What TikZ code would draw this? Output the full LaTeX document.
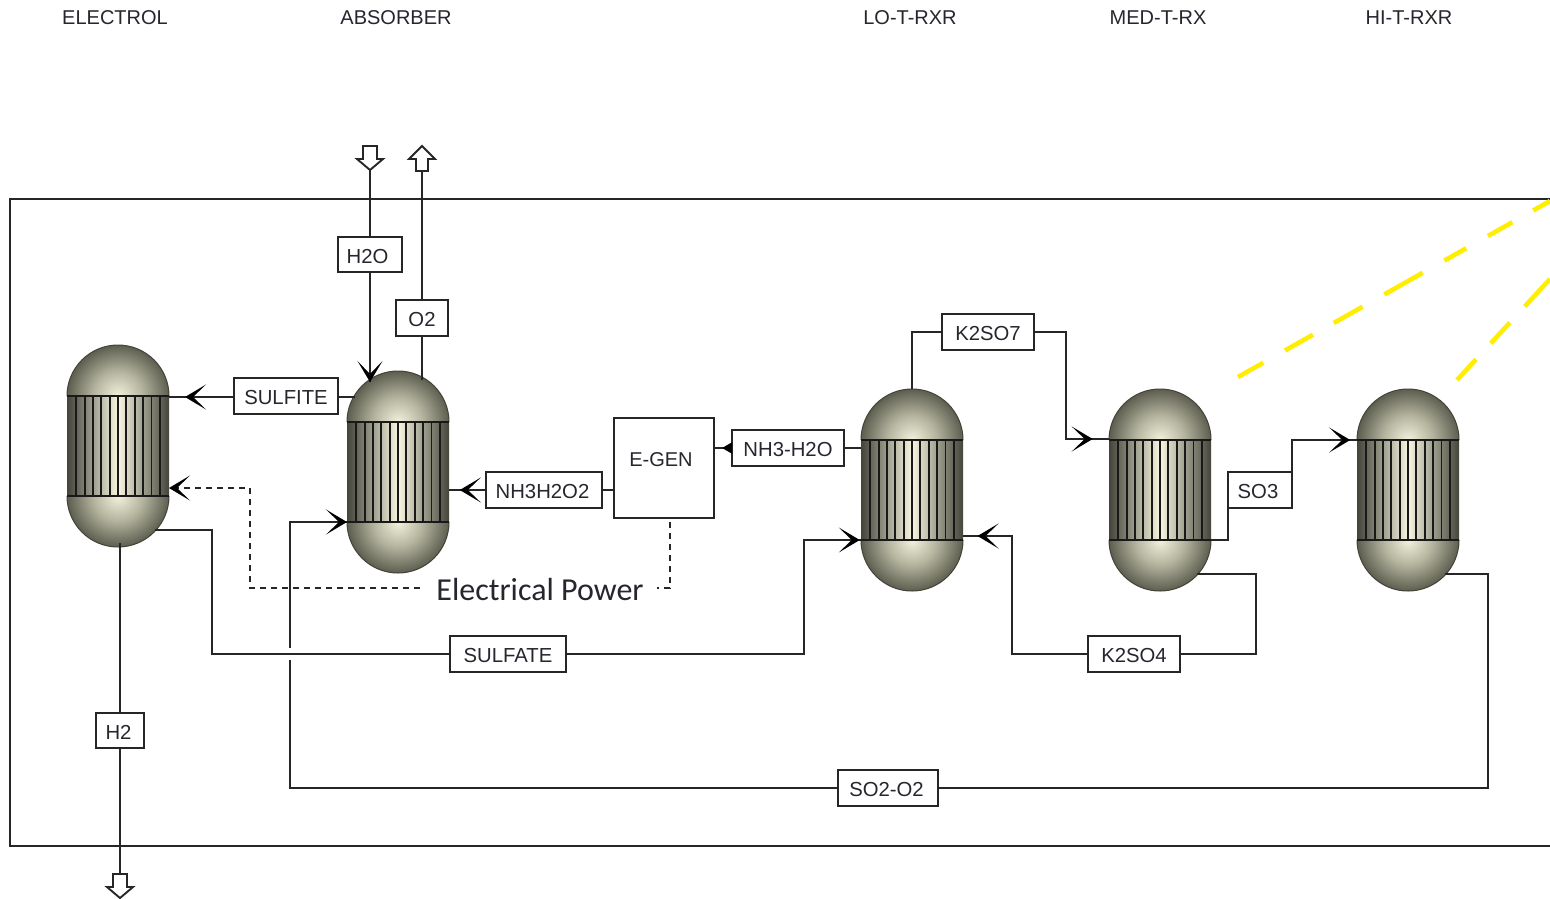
\documentclass[tikz,border=0pt]{standalone}
\usepackage{fontspec}
\setmainfont{Liberation Sans}
\newfontfamily\notefont{Carlito}
\usetikzlibrary{arrows.meta,decorations.markings}
\definecolor{ink}{HTML}{262626}
\definecolor{txt}{HTML}{26262E}
\definecolor{domein}{HTML}{F2F2DC}
\definecolor{domemid}{HTML}{B4B49F}
\definecolor{domeout}{HTML}{5E5E50}
\definecolor{bandmid}{HTML}{F6F6E0}
\definecolor{bandout}{HTML}{44443A}
\definecolor{yel}{HTML}{FFEE00}
\pgfdeclareradialshading{domeglow}{\pgfpointorigin}{color(0bp)=(domein); color(12bp)=(domemid); color(25bp)=(domeout); color(50bp)=(domeout)}
\tikzset{
  pipe/.style={draw=ink,line width=1.9pt,line join=miter},
  dashpipe/.style={pipe,dash pattern=on 6pt off 5pt},
  stream/.style={draw=ink,line width=1.9pt,fill=white,inner sep=0pt,text=txt,text height=17pt,text depth=0pt,font=\fontsize{20.3}{24}\selectfont},
  title/.style={text=txt,inner sep=0pt,text height=17pt,text depth=0pt,font=\fontsize{20}{24}\selectfont},
  note/.style={text=txt,inner sep=0pt,font=\notefont\fontsize{32}{36}\selectfont},
  barbtip/.tip={Stealth[length=21pt,width=25pt,inset=13pt]},
  barbat/.style={postaction={decorate,decoration={markings,mark=at position #1 with {\arrow[black,solid]{barbtip}}}}},
  smallat/.style={postaction={decorate,decoration={markings,mark=at position #1 with {\arrow[black,solid]{Triangle[length=10pt,width=11pt]}}}}},
  yline/.style={draw=yel,line width=4.6pt},
  hollow/.style={draw=ink,line width=1.9pt,fill=white,line join=miter},
  vesselbox/.style={inner sep=0pt,minimum width=102pt,minimum height=202pt}
}
% vessel: name, centre x, top y
\newcommand\vessel[3]{%
  \node[vesselbox] (#1) at (#2,#3+101) {};
  \begin{scope}
    \clip (#2-51,#3+51) arc[start angle=180,end angle=360,x radius=51,y radius=51] -- cycle;
    \shade[shading=domeglow] (#2-51,#3-51+51) rectangle (#2+51,#3+102);
  \end{scope}
  \begin{scope}
    \clip (#2-51,#3+151) arc[start angle=180,end angle=0,x radius=51,y radius=51] -- cycle;
    \shade[shading=domeglow] (#2-51,#3+100) rectangle (#2+51,#3+202);
  \end{scope}
  \draw[draw=domeout!70!black,line width=1pt] (#2-51,#3+51) arc[start angle=180,end angle=360,x radius=51,y radius=51];
  \draw[draw=domeout!70!black,line width=1pt] (#2-51,#3+151) arc[start angle=180,end angle=0,x radius=51,y radius=51];
  \shade[left color=bandout,right color=bandout,middle color=bandmid] (#2-51,#3+51) rectangle (#2+51,#3+151);
  \foreach \k in {-5,...,5} {\draw[draw=black!90,line width=1.8pt] (#2+\k*8.35,#3+51) -- (#2+\k*8.35,#3+151);}
  \draw[draw=black!90,line width=1.7pt] (#2-51,#3+51) -- (#2+51,#3+51) (#2-51,#3+151) -- (#2+51,#3+151);
}
\newcommand\blockdown[2]{% x, top y
  \draw[hollow] (#1-7,#2) -- (#1+7,#2) -- (#1+7,#2+13) -- (#1+13,#2+13) -- (#1,#2+24) -- (#1-13,#2+13) -- (#1-7,#2+13) -- cycle;
}
\newcommand\blockup[2]{% x, tip y
  \draw[hollow] (#1,#2) -- (#1+13,#2+13) -- (#1+6,#2+13) -- (#1+6,#2+25) -- (#1-6,#2+25) -- (#1-6,#2+13) -- (#1-13,#2+13) -- cycle;
}
\begin{document}
\begin{tikzpicture}[x=1pt,y=-1pt]
\useasboundingbox (0,0) rectangle (1550,898);
\fill[white] (0,0) rectangle (1550,898);

% plant frame (open at the right edge)
\draw[pipe] (1550,199) -- (10,199) -- (10,846) -- (1550,846);

% titles
\node[title] (tElectrol) at (115,16) {ELECTROL};
\node[title] (tAbsorber) at (396,16) {ABSORBER};
\node[title] (tLo) at (910,16) {LO-T-RXR};
\node[title] (tMed) at (1158,16) {MED-T-RX};
\node[title] (tHi) at (1409,16) {HI-T-RXR};

% vessels
\vessel{electrol}{118}{345}
\vessel{absorber}{398}{371}
\vessel{lot}{912}{389}
\vessel{medt}{1160}{389}
\vessel{hit}{1408}{389}

% ports
\coordinate (elIn1) at (169,397);
\coordinate (elIn2) at (169,488);
\coordinate (elOutS) at (155,530);
\coordinate (elOutB) at (120,543);
\coordinate (abTopA) at (370,382);
\coordinate (abTopB) at (422,380);
\coordinate (abL) at (355,397);
\coordinate (abR) at (449,490);
\coordinate (abIn) at (347,522);
\coordinate (loTop) at (912,389);
\coordinate (loL1) at (861,448);
\coordinate (loL2) at (861,540);
\coordinate (loR) at (963,536);
\coordinate (meIn) at (1109,439);
\coordinate (meR) at (1211,540);
\coordinate (meB) at (1197,574);
\coordinate (hiIn) at (1357,440);
\coordinate (hiB) at (1445,574);
\coordinate (feedH2O) at (370,170);
\coordinate (ventO2) at (422,170);
\coordinate (ventH2) at (120,875);
\coordinate (dashA) at (420,588);
\coordinate (dashB) at (657,588);
\coordinate (yA1) at (1238,377);
\coordinate (yA2) at (1550,201);
\coordinate (yB1) at (1457,380);
\coordinate (yB2) at (1550,279);

% stream labels and generator
\node[stream,minimum width=64pt,minimum height=35pt] (H2O) at (370,254.5) {\hspace*{-5pt}H2O};
\node[stream,minimum width=52pt,minimum height=36pt] (O2) at (422,318) {O2};
\node[stream,minimum width=104pt,minimum height=36pt] (SULFITE) at (286,396) {SULFITE};
\node[stream,minimum width=116pt,minimum height=36pt] (NH3H2O2) at (544,490) {\hspace*{-3pt}NH3H2O2};
\node[stream,minimum width=100pt,minimum height=100pt] (EGEN) at (664,468) {};
\node[title] (EGENtxt) at (661,458) {E-GEN};
\node[stream,minimum width=112pt,minimum height=36pt] (NH3H2O) at (788,448) {NH3-H2O};
\node[stream,minimum width=92pt,minimum height=36pt] (K2SO7) at (988,332) {K2SO7};
\node[stream,minimum width=64pt,minimum height=36pt] (SO3) at (1260,490) {\hspace*{-4pt}SO3};
\node[stream,minimum width=92pt,minimum height=36pt] (K2SO4) at (1134,654) {K2SO4};
\node[stream,minimum width=116pt,minimum height=36pt] (SULFATE) at (508,654) {SULFATE};
\node[stream,minimum width=100pt,minimum height=36pt] (SO2O2) at (888,788) {\hspace*{-3pt}SO2-O2};
\node[stream,minimum width=48pt,minimum height=35pt] (H2) at (120,730.5) {\hspace*{-3pt}H2};
\node[note] (epower) at (540,589) {Electrical Power};

% block arrows
\blockdown{370}{146}
\blockup{422}{146}
\blockdown{120}{874}

% connectors
\draw[pipe] (feedH2O) -- (H2O.north);
\draw[pipe,barbat=1] (H2O.south) -- (abTopA);
\draw[pipe] (O2.north) -- (ventO2);
\draw[pipe] (abTopB) -- (O2.south);
\draw[pipe] (abL) -- (SULFITE.east |- abL);
\draw[pipe,barbat=0.75] (SULFITE.west |- elIn1) -- (elIn1);
\draw[pipe,barbat=0.7] (NH3H2O2.west) -- (abR);
\draw[pipe] (EGEN.west |- NH3H2O2) -- (NH3H2O2.east);
\draw[pipe,smallat=0.56] (NH3H2O.west) -- (EGEN.east |- NH3H2O);
\draw[pipe] (NH3H2O.east) -- (loL1);
\draw[pipe] (loTop) -- (912,332) -- (K2SO7.west);
\draw[pipe,barbat=0.91] (K2SO7.east) -- (1066,332) -- (1066,439) -- (meIn);
\draw[pipe] (meR) -- (1228,540) -- (1228,508);
\draw[pipe,barbat=0.93] (1292,472) -- (1292,440) -- (hiIn);
\draw[pipe] (meB) -- (1256,574) -- (1256,654) -- (K2SO4.east);
\draw[pipe,barbat=0.94] (K2SO4.west) -- (1012,654) -- (1012,536) -- (loR);
\draw[pipe] (elOutS) -- (212,530) -- (212,654) -- (SULFATE.west);
\draw[pipe,barbat=0.997] (SULFATE.east) -- (804,654) -- (804,540) -- (loL2);
\draw[pipe] (hiB) -- (1488,574) -- (1488,788) -- (SO2O2.east);
\draw[pipe] (SO2O2.west) -- (290,788) -- (290,660);
\draw[pipe,barbat=1] (290,648) -- (290,522) -- (abIn);
\draw[pipe] (elOutB) -- (H2.north);
\draw[pipe] (H2.south) -- (ventH2);

% electrical signal
\draw[dashpipe,barbat=1] (dashA) -- (250,588) -- (250,488) -- (elIn2);
\draw[dashpipe] (670,522) -- (670,588) -- (dashB);

% yellow guides
\draw[yline,dash pattern=on 29pt off 25pt on 32pt off 24pt on 33pt off 25pt on 44pt off 25pt on 25pt off 25pt on 28pt off 24pt on 24pt off 10pt] (yA1) -- (yA2);
\draw[yline,dash pattern=on 28pt off 22pt on 28pt off 22pt on 40pt off 10pt] (yB1) -- (yB2);
\end{tikzpicture}
\end{document}
